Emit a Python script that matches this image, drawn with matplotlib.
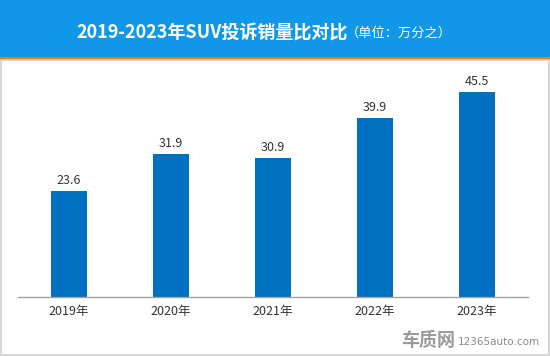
import matplotlib
matplotlib.use("Agg")
import matplotlib.pyplot as plt
from matplotlib.patches import Rectangle

plt.rcParams['font.family'] = ['Noto Sans CJK SC', 'DejaVu Sans']

years = ["2019年", "2020年", "2021年", "2022年", "2023年"]
values = [23.6, 31.9, 30.9, 39.9, 45.5]

W, H = 550, 356
fig = plt.figure(figsize=(W / 100, H / 100), dpi=100)

# header band
fig.patches.append(Rectangle((0, 1 - 57 / H), 1, 57 / H, transform=fig.transFigure,
                             facecolor="#1197E8", edgecolor="none", zorder=0))
fig.patches.append(Rectangle((0, 1 - 60 / H), 1, 3 / H, transform=fig.transFigure,
                             facecolor="#F07D00", edgecolor="none", zorder=0))
# light frame around the chart area
fig.patches.append(Rectangle((1 / W, 1 / H), 1 - 2.5 / W, 1 - 61 / H, transform=fig.transFigure,
                             facecolor="none", edgecolor="#D0D0D0", linewidth=1.2, zorder=0))

fig.text(212 / W, 1 - 33 / H, "2019-2023年SUV投诉销量比对比", color="white",
         fontsize=13, fontweight="bold", ha="center", va="center")
fig.text(346 / W, 1 - 33 / H, "（单位：万分之）", color="white",
         fontsize=9.5, ha="left", va="center")

ax = fig.add_axes([18 / W, 1 - 297 / H, 510 / W, 227 / H])
x = range(len(years))
bars = ax.bar(x, values, width=0.35, color="#0070C0")
for b, v in zip(bars, values):
    ax.text(b.get_x() + b.get_width() / 2, v + 0.9, f"{v}", ha="center", va="bottom",
            fontsize=9, color="#333333")

ax.set_xlim(-0.5, len(years) - 0.5)
ax.set_ylim(0, 50.5)
ax.set_xticks(list(x))
ax.set_xticklabels(years, fontsize=9, color="#333333")
ax.tick_params(axis="x", length=0, pad=6)
ax.set_yticks([])
for s in ["top", "right", "left"]:
    ax.spines[s].set_visible(False)
ax.spines["bottom"].set_color("#A0A0A0")
ax.spines["bottom"].set_linewidth(1)

# watermark logo
fig.text(455 / W, 1 - 340 / H, "车质网", color="#9A9A9A", fontsize=13, fontweight="bold",
         ha="right", va="center")
fig.text(458 / W, 1 - 342 / H, "12365auto.com", color="#8A8A8A", fontsize=7.5,
         ha="left", va="center", family=["DejaVu Sans"])

fig.savefig("out.png", dpi=100)
